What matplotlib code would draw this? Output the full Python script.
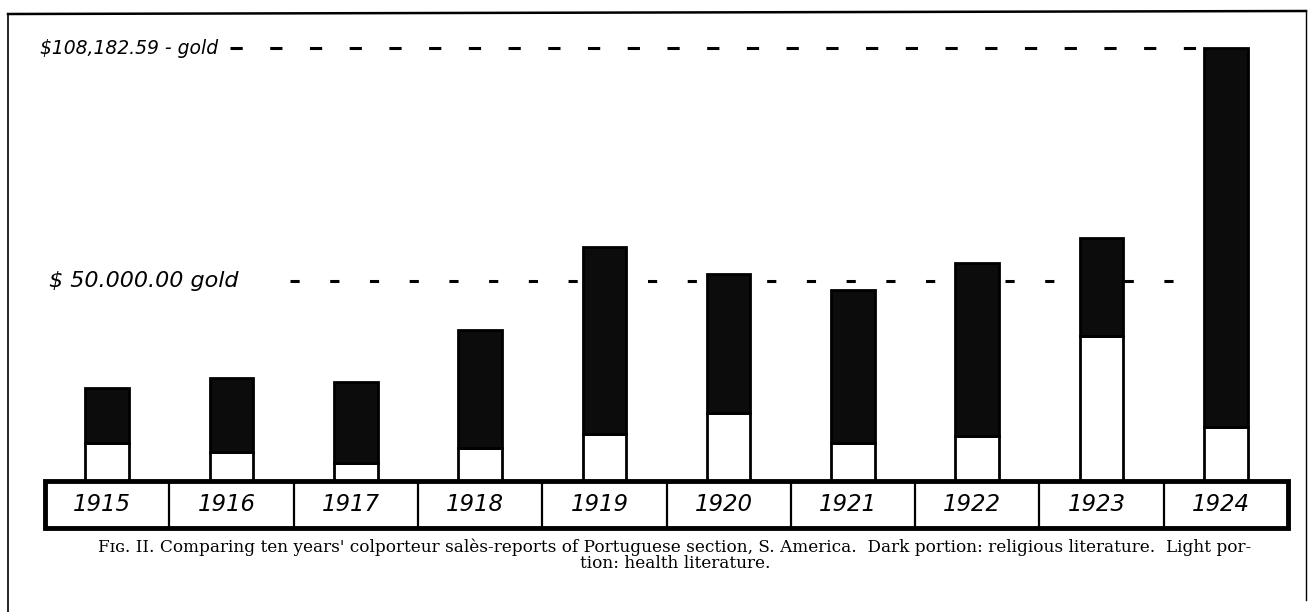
import matplotlib.pyplot as plt
from matplotlib.patches import Rectangle


W, H = 1311, 612

years = ["1915", "1916", "1917", "1918", "1919", "1920", "1921", "1922", "1923", "1924"]
# dollars (gold)
health = [9500, 7250, 4500, 8250, 11750, 17000, 9500, 11250, 36250, 13500]
religious = [13750, 18500, 20250, 29500, 46750, 34750, 38250, 43250, 24500, 94700]

ref_values = [108182.59, 50000.00]
ref_labels = ["$108,182.59 - gold", "$ 50.000.00 gold"]

caption_1 = ("Fɪɢ. II. Comparing ten years' colporteur salès-reports of Portuguese "
             "section, S. America.  Dark portion: religious literature.  Light por-")
caption_2 = "tion: health literature."


def fx(px):
    return px / W


def fy(py):
    return 1 - py / H


fig = plt.figure(figsize=(W / 100, H / 100), dpi=100)

# outer frame of the scanned page
fig.add_artist(plt.Line2D([fx(8), fx(8)], [fy(14), fy(612)], color="black", lw=1.2))
fig.add_artist(plt.Line2D([fx(8), fx(1306)], [fy(14), fy(11)], color="black", lw=1.8))
fig.add_artist(plt.Line2D([fx(1306), fx(1306)], [fy(11), fy(600)], color="black", lw=1.0))

# plot area: year box bottom at 528 px, baseline at 481 px, 250 $ per px
ax = fig.add_axes([fx(45), fy(528), fx(1288) - fx(45), fy(30) - fy(528)])
y_min = -(528 - 481) * 250
y_max = (481 - 30) * 250
ax.set_xlim(-0.5, 9.5)
ax.set_ylim(y_min, y_max)
ax.axis("off")

x = list(range(len(years)))
bar_w = 0.35

ax.bar(x, health, width=bar_w, color="white", edgecolor="black", linewidth=2, zorder=3)
ax.bar(x, religious, bottom=health, width=bar_w, color="#0c0c0c",
       edgecolor="black", linewidth=2, zorder=3)

# dashed reference lines with their hand-written labels
line_starts = [0.99, 1.47]
line_dashes = [(4, 9), (3, 10)]
label_x = [-0.54, -0.47]
label_size = [13.5, 16]
last_left = x[-1] - bar_w / 2
for val, lab, xs, ds, lx, fs in zip(ref_values, ref_labels, line_starts,
                                    line_dashes, label_x, label_size):
    ax.plot([xs, last_left], [val, val], color="black", lw=2.2, dashes=ds, zorder=2)
    ax.text(lx, val, lab, ha="left", va="center", fontsize=fs,
            fontstyle="italic", color="black", clip_on=False)

# year box
ax.add_patch(Rectangle((-0.5, y_min), 10, -y_min, fill=False, edgecolor="black",
                       linewidth=3.5, clip_on=False, zorder=4))
ax.vlines([i + 0.5 for i in x[:-1]], y_min, 0, color="black", lw=1.6, zorder=4)
for i, yr in enumerate(years):
    ax.text(i - 0.04, y_min / 2, yr, ha="center", va="center", fontsize=16.5,
            fontstyle="italic", color="black")

fig.text(fx(675), fy(547), caption_1, ha="center", va="center",
         family="DejaVu Serif", fontsize=12.2)
fig.text(fx(675), fy(563), caption_2, ha="center", va="center",
         family="DejaVu Serif", fontsize=12.2)

fig.savefig("out.png", dpi=100, facecolor="white")
